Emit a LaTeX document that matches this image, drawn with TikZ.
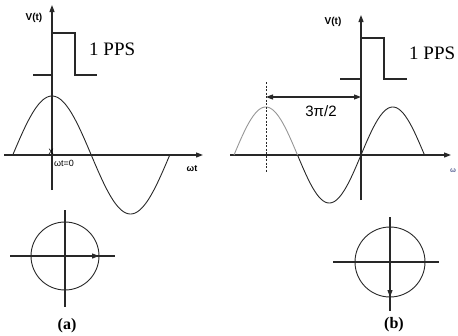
\documentclass[tikz,border=0pt]{standalone}
\usepackage{fontspec}
\setmainfont{Liberation Serif}
\setsansfont{Liberation Sans}
\usepackage{tikz}
\usetikzlibrary{arrows.meta}
\definecolor{inkgray}{RGB}{40,40,40}
\definecolor{ghost}{RGB}{150,150,150}
\definecolor{omegablue}{RGB}{90,100,150}

\begin{document}
\begin{tikzpicture}[x=1pt, y=-1pt,
  axis/.style={line width=1.2pt, inkgray, -{Triangle[length=7pt,width=5pt]}},
  plain/.style={line width=1.2pt, inkgray},
  pulse/.style={line width=1.4pt, inkgray},
  wave/.style={line width=0.9pt, inkgray},
  dial/.style={line width=0.9pt, inkgray},
  vlabel/.style={font=\sffamily\bfseries\fontsize{10}{10}\selectfont, inner sep=0pt},
  ppslabel/.style={font=\fontsize{19}{19}\selectfont, text=black, inner sep=0pt, anchor=west},
  caption/.style={font=\bfseries\fontsize{16}{16}\selectfont, inner sep=0pt}
]
  \useasboundingbox (0,0) rectangle (458,335);

  % (a) cosine with pulse at the peak
  \coordinate (oa) at (52,155);
  \draw[axis] (52,190) -- (52,5) coordinate (va);
  \draw[axis] (4,155) -- (203,155) coordinate (ha);
  \draw[pulse] (33,75) -- (52,75) -- (52,33) -- (75,33) -- (75,75) -- (97,75);
  \draw[wave] plot[domain=13:170, samples=90] (\x, {155-59*cos((\x-52)/78.5*180)});
  \node[vlabel] (vta) at (34,18) {V(t)};
  \node[ppslabel] (ppsa) at (89,49) {1 PPS};
  \node[font=\sffamily\fontsize{10}{10}\selectfont, inner sep=0pt] (xa) at (51,152) {x};
  \node[font=\sffamily\fontsize{9}{9}\selectfont, inner sep=0pt, anchor=west] (zeroa) at (54,163) {ωt=0};
  \node[font=\sffamily\bfseries\fontsize{9}{9}\selectfont, inner sep=0pt] (wta) at (192,169) {ωt};

  % (a) phasor
  \coordinate (ca) at (65,256);
  \draw[dial] (ca) circle (34);
  \draw[plain] (10,256) -- (115,256);
  \draw[plain] (65,210) -- (65,307);
  \draw[axis] (ca) -- (99,256);
  \node[caption] (capa) at (67,326) {(a)};

  % (b) sine, pulse a quarter period later
  \coordinate (ob) at (361,155);
  \draw[axis] (361,200) -- (361,15) coordinate (vb);
  \draw[axis] (230,155) -- (451,155) coordinate (hb);
  \draw[pulse] (340,79) -- (361,79) -- (361,38) -- (384,38) -- (384,79) -- (407,79);
  \draw[wave, ghost] plot[domain=234:297.5, samples=50] (\x, {155-48*sin((\x-361)/63.5*180)});
  \draw[wave] plot[domain=297.5:424.5, samples=90] (\x, {155-48*sin((\x-361)/63.5*180)});
  \draw[line width=1pt, inkgray, dashed, dash pattern=on 2pt off 1.5pt] (266,82) coordinate (dtop) -- (266,172) coordinate (dbot);
  \draw[line width=1.1pt, inkgray, {Triangle[length=7pt,width=5pt]}-{Triangle[length=7pt,width=5pt]}] (266,97) -- (361,97);
  \node[font=\sffamily\fontsize{15}{15}\selectfont, inner sep=0pt] (shift) at (321,111) {3π/2};
  \node[vlabel] (vtb) at (333,22) {V(t)};
  \node[ppslabel] (ppsb) at (409,53) {1 PPS};
  \node[font=\sffamily\bfseries\fontsize{7}{7}\selectfont, omegablue, inner sep=0pt] (wb) at (453,171) {ω};

  % (b) phasor
  \coordinate (cb) at (390,262);
  \draw[dial] (cb) circle (35);
  \draw[plain] (333,262) -- (439,262);
  \draw[plain] (390,217) -- (390,311);
  \draw[axis] (cb) -- (390,297);
  \node[caption] (capb) at (394,325) {(b)};
\end{tikzpicture}
\end{document}
